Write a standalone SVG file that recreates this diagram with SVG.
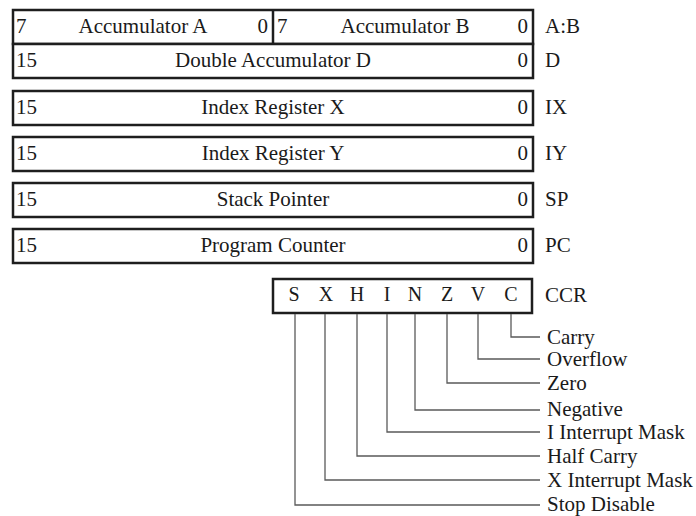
<svg xmlns="http://www.w3.org/2000/svg" width="696" height="516" viewBox="0 0 696 516">
  <style>
    .reg { fill: #ffffff; stroke: #1e1e1e; stroke-width: 2.5; }
    .div { stroke: #1e1e1e; stroke-width: 2.5; }
    text { font-family: "Liberation Serif", "Times New Roman", Times, serif; font-size: 21px; fill: #1a1a1a; }
    .mid { text-anchor: middle; }
    .end { text-anchor: end; }
    .flag { font-size: 20px; }
    .conn { fill: none; stroke: #5a5a5a; stroke-width: 1.3; }
  </style>

  <!-- Accumulators A and B -->
  <g id="reg-ab">
    <rect class="reg" x="13" y="10" width="520" height="34"/>
    <line class="div" x1="273" y1="10" x2="273" y2="44"/>
    <text x="16" y="33">7</text>
    <text class="mid" x="143" y="33">Accumulator A</text>
    <text class="end" x="268" y="33">0</text>
    <text x="277" y="33">7</text>
    <text class="mid" x="405" y="33">Accumulator B</text>
    <text class="end" x="528" y="33">0</text>
    <text x="545" y="33">A:B</text>
  </g>

  <!-- Double accumulator D -->
  <g id="reg-d">
    <rect class="reg" x="13" y="44" width="520" height="34"/>
    <text x="16" y="67">15</text>
    <text class="mid" x="273" y="67">Double Accumulator D</text>
    <text class="end" x="528" y="67">0</text>
    <text x="545" y="67">D</text>
  </g>

  <!-- Index register X -->
  <g id="reg-ix">
    <rect class="reg" x="13" y="91" width="520" height="34"/>
    <text x="16" y="114">15</text>
    <text class="mid" x="273" y="114">Index Register X</text>
    <text class="end" x="528" y="114">0</text>
    <text x="545" y="114">IX</text>
  </g>

  <!-- Index register Y -->
  <g id="reg-iy">
    <rect class="reg" x="13" y="137" width="520" height="34"/>
    <text x="16" y="160">15</text>
    <text class="mid" x="273" y="160">Index Register Y</text>
    <text class="end" x="528" y="160">0</text>
    <text x="545" y="160">IY</text>
  </g>

  <!-- Stack pointer -->
  <g id="reg-sp">
    <rect class="reg" x="13" y="183" width="520" height="34"/>
    <text x="16" y="206">15</text>
    <text class="mid" x="273" y="206">Stack Pointer</text>
    <text class="end" x="528" y="206">0</text>
    <text x="545" y="206">SP</text>
  </g>

  <!-- Program counter -->
  <g id="reg-pc">
    <rect class="reg" x="13" y="229" width="520" height="34"/>
    <text x="16" y="252">15</text>
    <text class="mid" x="273" y="252">Program Counter</text>
    <text class="end" x="528" y="252">0</text>
    <text x="545" y="252">PC</text>
  </g>

  <!-- Condition code register -->
  <g id="reg-ccr">
    <rect class="reg" x="273" y="279" width="259" height="34"/>
    <text class="mid flag" x="294" y="301">S</text>
    <text class="mid flag" x="326" y="301">X</text>
    <text class="mid flag" x="357" y="301">H</text>
    <text class="mid flag" x="387" y="301">I</text>
    <text class="mid flag" x="415" y="301">N</text>
    <text class="mid flag" x="447" y="301">Z</text>
    <text class="mid flag" x="478" y="301">V</text>
    <text class="mid flag" x="511" y="301">C</text>
    <text x="545" y="302">CCR</text>
  </g>

  <!-- Flag descriptions -->
  <g id="flag-labels">
    <text x="547" y="344">Carry</text>
    <text x="547" y="366">Overflow</text>
    <text x="547" y="390">Zero</text>
    <text x="547" y="416">Negative</text>
    <text x="547" y="439">I Interrupt Mask</text>
    <text x="547" y="463">Half Carry</text>
    <text x="547" y="487">X Interrupt Mask</text>
    <text x="547" y="511">Stop Disable</text>
  </g>

  <!-- Leader lines from each flag bit to its description -->
  <g id="connectors">
    <polyline class="conn" points="511,314 511,337 540,337"/>
    <polyline class="conn" points="478,314 478,359 540,359"/>
    <polyline class="conn" points="447,314 447,383 540,383"/>
    <polyline class="conn" points="415,314 415,410 540,410"/>
    <polyline class="conn" points="387,314 387,432 540,432"/>
    <polyline class="conn" points="357,314 357,456 540,456"/>
    <polyline class="conn" points="325,314 325,480 540,480"/>
    <polyline class="conn" points="295,314 295,505 540,505"/>
  </g>
</svg>
